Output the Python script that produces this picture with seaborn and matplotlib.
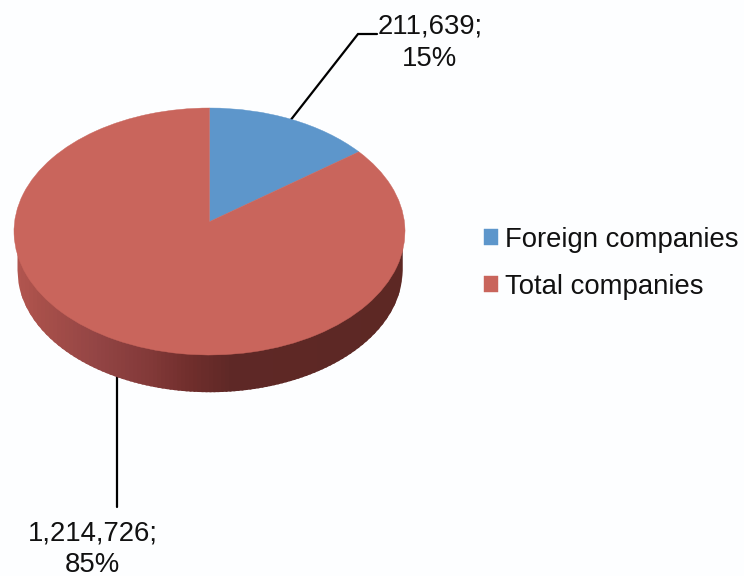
import numpy as np
import matplotlib
matplotlib.use("Agg")
import matplotlib.pyplot as plt
import matplotlib.transforms as mtrans
import seaborn as sns

categories = ["Foreign companies", "Total companies"]
values = [211639, 1214726]
percents = [15, 85]
colors = ["#5D96CB", "#C9655C"]

BG = "#FDFEFF"
W, H = 744, 576
CX, CY, RX, RY = 209.5, 231.5, 195.5, 123.5      # top face, pixels
BCY, BRX, BRY = 270.0, 192.5, 121.7               # bottom rim, pixels
TILT = 0.08                                       # perspective shift of the pie centre


class Perspective(mtrans.Transform):
    """Projective map of the unit circle onto itself that moves its centre."""
    input_dims = output_dims = 2

    def __init__(self, a):
        super().__init__()
        self.a = a

    def transform_non_affine(self, xy):
        xy = np.asarray(xy, float)
        d = 1 + self.a * xy[:, 1]
        return np.column_stack([xy[:, 0] * np.sqrt(1 - self.a ** 2) / d,
                                (xy[:, 1] + self.a) / d])


sns.set_theme(style="white")
plt.rcParams["font.family"] = ["Liberation Sans", "DejaVu Sans"]
plt.rcParams["text.color"] = "#111111"

fig = plt.figure(figsize=(W / 100, H / 100), dpi=100, facecolor=BG)
ax = fig.add_axes([0, 0, 1, 1])
palette = sns.color_palette(colors)

wedges, _ = ax.pie(values, colors=palette, startangle=90, counterclock=False,
                   wedgeprops=dict(linewidth=0.3, zorder=3))
ax.set_aspect("auto")
ax.set_xlim(0, W)
ax.set_ylim(H, 0)
ax.axis("off")

persp = Perspective(TILT)
to_px = mtrans.Affine2D().scale(RX, -RY).translate(CX, CY)
for w, c in zip(wedges, palette):
    w.set_edgecolor(c)
    w.set_transform(persp + to_px + ax.transData)
    w.set_clip_on(False)

# side wall of the extruded disc: overlapping strips shaded from left to right
stops_x = [17, 40, 100, 150, 190, 232, 402]
stops_r = [178, 168, 146, 130, 112, 94, 93]
stops_g = [86, 80, 68, 57, 46, 40, 40]
stops_b = [80, 74, 68, 56, 44, 38, 36]
edges = np.arange(17, 402.5, 4.0)
for x0 in edges:
    xs = np.linspace(x0, min(x0 + 6, 402), 7)
    t = np.clip((xs - CX) / BRX, -1, 1)
    low = BCY + BRY * np.sqrt(1 - t ** 2)
    m = x0 + 2
    col = (np.interp(m, stops_x, stops_r) / 255,
           np.interp(m, stops_x, stops_g) / 255,
           np.interp(m, stops_x, stops_b) / 255)
    ax.fill_between(xs, CY, low, color=col, linewidth=0, zorder=2)

# leader lines start from each slice's mid angle on the rim
fractions = np.array(values) / np.sum(values)
mids = 2 * np.pi * (np.cumsum(fractions) - fractions / 2)
rim = np.column_stack([np.sin(mids), np.cos(mids)])
rim_px = to_px.transform(persp.transform_non_affine(rim))

ax.plot([rim_px[0, 0], 358, 377], [rim_px[0, 1], 34, 34],
        color="black", lw=1.6, zorder=1, solid_joinstyle="miter")
ax.plot([117, 117], [rim_px[1, 1] + 30, 507],
        color="black", lw=1.6, zorder=1)

labels = [f"{v:,};\n{p}%" for v, p in zip(values, percents)]
ax.text(430, 42.5, labels[0], ha="center", va="center", fontsize=19.8, linespacing=1.3)
ax.text(92.5, 549.5, labels[1], ha="center", va="center", fontsize=19.8, linespacing=1.3)

leg = ax.legend(wedges, categories, loc="upper left",
                bbox_to_anchor=(484 / W, 1 - 227 / H), bbox_transform=fig.transFigure,
                frameon=False, fontsize=19.8, borderpad=0, borderaxespad=0,
                labelspacing=0.76, handlelength=0.5, handleheight=0.5,
                handletextpad=0.26)

fig.savefig("out.png", dpi=100, facecolor=BG)
